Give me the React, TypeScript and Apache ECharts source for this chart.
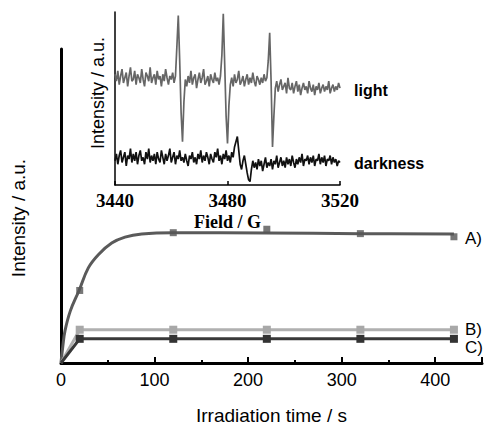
import React, { useEffect, useRef } from "react";
import * as echarts from "echarts";

// ---- Main chart data (Irradiation time / s vs Intensity / a.u.) ----
const timeTicks = [0, 100, 200, 300, 400];
// A) measured points
const seriesAPoints: [number, number][] = [
  [20, 23.1], [120, 41.5], [220, 42.6], [320, 41.2], [420, 40.2],
];
// A) fitted curve
const seriesAFit: [number, number][] = [
  [0, 0], [2, 5.5], [4.3, 10.3], [10, 16.6], [19.3, 23.1], [29.2, 30.3], [39.9, 34.5],
  [54.2, 38.2], [68.4, 40.1], [86.3, 41.1], [120, 41.5], [220, 41.4],
  [320, 41.2], [420, 41.1],
];
const seriesB: [number, number][] = [
  [0, 0], [20, 10.6], [120, 10.6], [220, 10.6], [320, 10.6], [420, 10.6],
];
const seriesC: [number, number][] = [
  [0, 0], [20, 7.7], [120, 7.7], [220, 7.7], [320, 7.7], [420, 7.7],
];
const seriesLabels = ["A)", "B)", "C)"];

// ---- Inset data (Field / G vs Intensity) ----
const fieldTicks = [3440, 3480, 3520];
const lightSpectrum: [number, number][] = [
  [3440, 64], [3440.5, 60], [3441, 66], [3441.5, 58], [3442, 63], [3442.5, 67], [3443, 59], [3443.5, 62], [3444, 65], [3444.5, 57],
  [3445, 63], [3445.5, 68], [3446, 60], [3446.5, 61], [3447, 66], [3447.5, 58], [3448, 64], [3448.5, 62], [3449, 59], [3449.5, 67],
  [3450, 61], [3450.5, 57], [3451, 65], [3451.5, 63], [3452, 60], [3452.5, 68], [3453, 59], [3453.5, 62], [3454, 64], [3454.5, 58],
  [3455, 66], [3455.5, 61], [3456, 63], [3456.5, 57], [3457, 64], [3457.5, 60], [3458, 67], [3458.5, 62], [3459, 58], [3459.5, 63],
  [3460, 61], [3460.5, 65], [3461, 59], [3461.5, 63], [3462, 80], [3462.5, 98], [3463, 72], [3463.5, 42], [3464, 25], [3464.5, 48],
  [3465, 61], [3465.5, 57], [3466, 63], [3466.5, 59], [3467, 66], [3467.5, 58], [3468, 62], [3468.5, 64], [3469, 56], [3469.5, 61],
  [3470, 65], [3470.5, 59], [3471, 62], [3471.5, 67], [3472, 58], [3472.5, 60], [3473, 63], [3473.5, 57], [3474, 64], [3474.5, 61],
  [3475, 59], [3475.5, 65], [3476, 60], [3476.5, 62], [3477, 58], [3477.5, 63], [3478, 75], [3478.5, 99], [3479, 70], [3479.5, 40],
  [3480, 24], [3480.5, 46], [3481, 58], [3481.5, 62], [3482, 57], [3482.5, 64], [3483, 59], [3483.5, 61], [3484, 66], [3484.5, 58],
  [3485, 60], [3485.5, 63], [3486, 57], [3486.5, 61], [3487, 64], [3487.5, 58], [3488, 62], [3488.5, 59], [3489, 65], [3489.5, 60],
  [3490, 57], [3490.5, 63], [3491, 61], [3491.5, 58], [3492, 62], [3492.5, 59], [3493, 64], [3493.5, 60], [3494, 62], [3494.5, 72],
  [3495, 88], [3495.5, 60], [3496, 22], [3496.5, 40], [3497, 56], [3497.5, 60], [3498, 54], [3498.5, 58], [3499, 61], [3499.5, 55],
  [3500, 57], [3500.5, 59], [3501, 53], [3501.5, 62], [3502, 56], [3502.5, 55], [3503, 59], [3503.5, 53], [3504, 57], [3504.5, 60],
  [3505, 54], [3505.5, 58], [3506, 52], [3506.5, 56], [3507, 59], [3507.5, 55], [3508, 57], [3508.5, 53], [3509, 60], [3509.5, 56],
  [3510, 54], [3510.5, 58], [3511, 52], [3511.5, 57], [3512, 55], [3512.5, 59], [3513, 53], [3513.5, 56], [3514, 58], [3514.5, 54],
  [3515, 57], [3515.5, 55], [3516, 60], [3516.5, 53], [3517, 56], [3517.5, 58], [3518, 54], [3518.5, 57], [3519, 55], [3519.5, 59],
  [3520, 56],
];
const darkSpectrum: [number, number][] = [
  [3440, 14], [3440.5, 18], [3441, 12], [3441.5, 17], [3442, 20], [3442.5, 13], [3443, 16], [3443.5, 19], [3444, 11], [3444.5, 17],
  [3445, 15], [3445.5, 21], [3446, 13], [3446.5, 18], [3447, 14], [3447.5, 19], [3448, 12], [3448.5, 17], [3449, 20], [3449.5, 14],
  [3450, 16], [3450.5, 12], [3451, 19], [3451.5, 15], [3452, 21], [3452.5, 13], [3453, 17], [3453.5, 14], [3454, 18], [3454.5, 12],
  [3455, 19], [3455.5, 15], [3456, 13], [3456.5, 20], [3457, 16], [3457.5, 12], [3458, 18], [3458.5, 14], [3459, 17], [3459.5, 21],
  [3460, 13], [3460.5, 16], [3461, 19], [3461.5, 12], [3462, 17], [3462.5, 15], [3463, 20], [3463.5, 14], [3464, 16], [3464.5, 13],
  [3465, 18], [3465.5, 14], [3466, 11], [3466.5, 17], [3467, 15], [3467.5, 19], [3468, 13], [3468.5, 16], [3469, 12], [3469.5, 18],
  [3470, 15], [3470.5, 20], [3471, 13], [3471.5, 17], [3472, 14], [3472.5, 19], [3473, 16], [3473.5, 12], [3474, 18], [3474.5, 15],
  [3475, 13], [3475.5, 19], [3476, 16], [3476.5, 21], [3477, 14], [3477.5, 17], [3478, 12], [3478.5, 18], [3479, 15], [3479.5, 20],
  [3480, 14], [3480.5, 17], [3481, 13], [3481.5, 19], [3482, 16], [3482.5, 22], [3483, 25], [3483.5, 28], [3484, 20], [3484.5, 12],
  [3485, 9], [3485.5, 14], [3486, 17], [3486.5, 12], [3487, 7], [3487.5, 3], [3488, 2], [3488.5, 9], [3489, 14], [3489.5, 10],
  [3490, 13], [3490.5, 9], [3491, 15], [3491.5, 11], [3492, 14], [3492.5, 8], [3493, 12], [3493.5, 16], [3494, 10], [3494.5, 13],
  [3495, 11], [3495.5, 15], [3496, 9], [3496.5, 14], [3497, 12], [3497.5, 17], [3498, 10], [3498.5, 13], [3499, 16], [3499.5, 11],
  [3500, 14], [3500.5, 10], [3501, 16], [3501.5, 12], [3502, 15], [3502.5, 11], [3503, 17], [3503.5, 13], [3504, 10], [3504.5, 15],
  [3505, 12], [3505.5, 16], [3506, 13], [3506.5, 18], [3507, 11], [3507.5, 15], [3508, 14], [3508.5, 17], [3509, 12], [3509.5, 16],
  [3510, 13], [3510.5, 17], [3511, 11], [3511.5, 15], [3512, 14], [3512.5, 18], [3513, 12], [3513.5, 16], [3514, 13], [3514.5, 17],
  [3515, 11], [3515.5, 15], [3516, 14], [3516.5, 17], [3517, 12], [3517.5, 16], [3518, 13], [3518.5, 15], [3519, 11], [3519.5, 14],
  [3520, 13],
];
const spectrumLabels = ["light", "darkness"];

const SANS = "'Liberation Sans', Arial, Helvetica, sans-serif";
const SERIF = "'Liberation Serif', 'Times New Roman', serif";

export default function App() {
  const ref = useRef<HTMLDivElement>(null);

  useEffect(() => {
    if (!ref.current) return;
    const chart = echarts.init(ref.current, undefined, { renderer: "svg" });

    const option: any = {
      animation: false,
      backgroundColor: "#ffffff",
      grid: [
        { left: 61, top: 49, width: 424, bottom: 64 },
        { left: 115, top: 12, width: 225, height: 173 },
      ],
      xAxis: [
        {
          gridIndex: 0,
          type: "value",
          min: 0,
          max: 450,
          interval: 100,
          name: "Irradiation time / s",
          nameLocation: "middle",
          nameGap: 43,
          nameTextStyle: { fontFamily: SANS, fontSize: 19, color: "#000" },
          axisLine: { show: true, onZero: false, lineStyle: { color: "#000", width: 3 } },
          axisTick: { show: true, inside: true, length: 6, lineStyle: { color: "#000", width: 2 } },
          minorTick: { show: true, splitNumber: 2, length: 3, lineStyle: { color: "#000", width: 2 } },
          axisLabel: {
            margin: 8,
            fontFamily: SANS,
            fontSize: 18,
            color: "#000",
            formatter: (v: number) => (timeTicks.includes(v) ? String(v) : ""),
          },
          splitLine: { show: false },
        },
        {
          gridIndex: 1,
          type: "value",
          min: 3440,
          max: 3520,
          interval: 40,
          name: "Field / G",
          nameLocation: "middle",
          nameGap: 28,
          nameTextStyle: { fontFamily: SERIF, fontSize: 18, fontWeight: "bold", color: "#000" },
          axisLine: { show: true, onZero: false, lineStyle: { color: "#000", width: 1.5 } },
          axisTick: { show: true, inside: true, length: 4, lineStyle: { color: "#000", width: 1.5 } },
          axisLabel: {
            margin: 6,
            fontFamily: SERIF,
            fontSize: 19,
            fontWeight: "bold",
            color: "#000",
            formatter: (v: number) => (fieldTicks.includes(v) ? String(v) : ""),
          },
          splitLine: { show: false },
        },
      ],
      yAxis: [
        {
          gridIndex: 0,
          type: "value",
          min: 0,
          max: 100,
          axisLine: { show: true, onZero: false, lineStyle: { color: "#000", width: 3 } },
          axisTick: { show: false },
          axisLabel: { show: false },
          splitLine: { show: false },
        },
        {
          gridIndex: 1,
          type: "value",
          min: 0,
          max: 100,
          axisLine: { show: true, onZero: false, lineStyle: { color: "#000", width: 1.5 } },
          axisTick: { show: false },
          axisLabel: { show: false },
          splitLine: { show: false },
        },
      ],
      series: [
        {
          type: "line",
          name: "A fit",
          xAxisIndex: 0,
          yAxisIndex: 0,
          data: seriesAFit,
          smooth: 0.4,
          showSymbol: false,
          symbol: "none",
          lineStyle: { color: "#5a5a5a", width: 3 },
          z: 3,
        },
        {
          type: "scatter",
          name: "A",
          xAxisIndex: 0,
          yAxisIndex: 0,
          data: seriesAPoints,
          symbol: "rect",
          symbolSize: 7,
          itemStyle: { color: "#555555" },
          z: 4,
        },
        {
          type: "line",
          name: "B",
          xAxisIndex: 0,
          yAxisIndex: 0,
          data: seriesB.map((p, i) => (i === 0 ? { value: p, symbol: "none" } : { value: p })),
          symbol: "rect",
          symbolSize: 8,
          showAllSymbol: true,
          lineStyle: { color: "#b0b0b0", width: 3 },
          itemStyle: { color: "#a8a8a8" },
          z: 3,
        },
        {
          type: "line",
          name: "C",
          xAxisIndex: 0,
          yAxisIndex: 0,
          data: seriesC.map((p, i) => (i === 0 ? { value: p, symbol: "none" } : { value: p })),
          symbol: "rect",
          symbolSize: 8,
          showAllSymbol: true,
          lineStyle: { color: "#383838", width: 3 },
          itemStyle: { color: "#333333" },
          z: 3,
        },
        {
          type: "line",
          name: "light",
          xAxisIndex: 1,
          yAxisIndex: 1,
          data: lightSpectrum,
          symbol: "none",
          lineStyle: { color: "#666666", width: 1.7 },
        },
        {
          type: "line",
          name: "darkness",
          xAxisIndex: 1,
          yAxisIndex: 1,
          data: darkSpectrum,
          symbol: "none",
          lineStyle: { color: "#111111", width: 1.7 },
        },
      ],
      graphic: [
        {
          type: "text",
          x: 18,
          y: 218,
          rotation: Math.PI / 2,
          style: {
            text: "Intensity / a.u.",
            fontFamily: SANS,
            fontSize: 19,
            fill: "#000",
            textAlign: "center",
            textVerticalAlign: "middle",
          },
        },
        {
          type: "text",
          x: 98,
          y: 93,
          rotation: Math.PI / 2,
          style: {
            text: "Intensity / a.u.",
            fontFamily: SANS,
            fontSize: 18,
            fill: "#000",
            textAlign: "center",
            textVerticalAlign: "middle",
          },
        },
        {
          type: "text",
          x: 354,
          y: 90,
          style: {
            text: spectrumLabels[0],
            fontFamily: SANS,
            fontSize: 16,
            fontWeight: "bold",
            fill: "#000",
            textAlign: "left",
            textVerticalAlign: "middle",
          },
        },
        {
          type: "text",
          x: 354,
          y: 163,
          style: {
            text: spectrumLabels[1],
            fontFamily: SANS,
            fontSize: 16,
            fontWeight: "bold",
            fill: "#000",
            textAlign: "left",
            textVerticalAlign: "middle",
          },
        },
        {
          type: "text",
          x: 465,
          y: 238,
          style: { text: seriesLabels[0], fontFamily: SANS, fontSize: 17, fill: "#000", textAlign: "left", textVerticalAlign: "middle" },
        },
        {
          type: "text",
          x: 465,
          y: 329,
          style: { text: seriesLabels[1], fontFamily: SANS, fontSize: 17, fill: "#000", textAlign: "left", textVerticalAlign: "middle" },
        },
        {
          type: "text",
          x: 465,
          y: 347,
          style: { text: seriesLabels[2], fontFamily: SANS, fontSize: 17, fill: "#000", textAlign: "left", textVerticalAlign: "middle" },
        },
      ],
    };

    chart.setOption(option);
    return () => {
      chart.dispose();
    };
  }, []);

  return (
    <div
      ref={ref}
      style={{ position: "fixed", left: 0, top: 0, width: 485, height: 430, background: "#fff" }}
    />
  );
}
